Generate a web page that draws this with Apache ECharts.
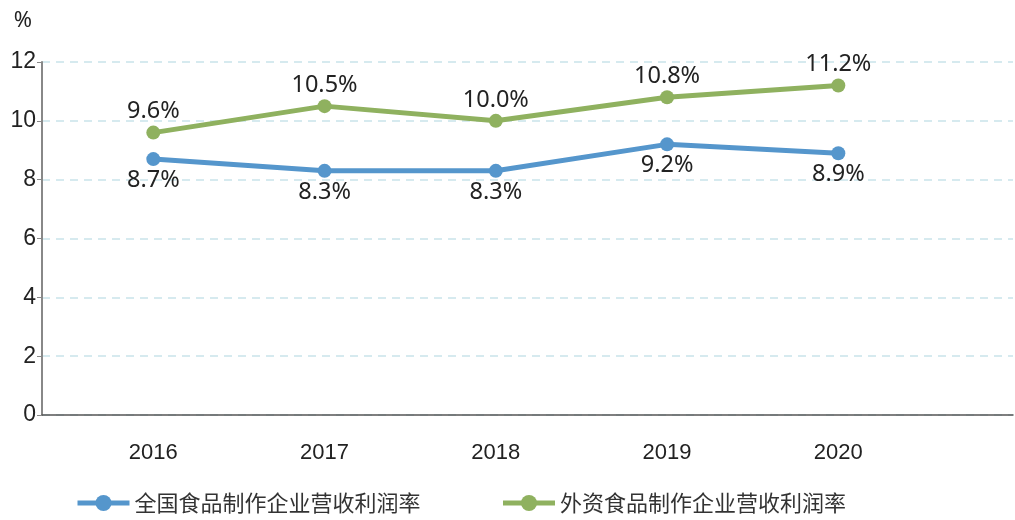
<!DOCTYPE html>
<html>
<head>
<meta charset="utf-8">
<script src="https://cdn.jsdelivr.net/npm/echarts@6/dist/echarts.min.js"></script>
<style>
    html, body { margin: 0; padding: 0; background: #fff; }
    #chart { width: 1015px; height: 520px; }
</style>
</head>
<body>
<div id="chart"></div>
<script>
// data
var years = [2016, 2017, 2018, 2019, 2020];
var nationalRate = [8.7, 8.3, 8.3, 9.2, 8.9];
var foreignRate = [9.6, 10.5, 10.0, 10.8, 11.2];
var seriesNames = ['全国食品制作企业营收利润率', '外资食品制作企业营收利润率'];
var yTicks = [0, 2, 4, 6, 8, 10, 12];

function pairs(vals) {
    var out = [];
    for (var i = 0; i < years.length; i++) {
        out.push([years[i], vals[i]]);
    }
    return out;
}

var chart = echarts.init(document.getElementById('chart'));

var labelFont = '"Noto Sans", "Open Sans", sans-serif';
var cjkFont = '"Noto Sans CJK SC", sans-serif';
var arialFont = '"Liberation Sans", Arial, sans-serif';

var option = {
    backgroundColor: '#fff',
    animation: false,
    grid: { left: 42, right: 2, top: 62, bottom: 105 },
    legend: {
        left: 70,
        top: 487,
        itemWidth: 52,
        itemHeight: 20,
        itemGap: 80,
        lineStyle: { width: 5 },
        textStyle: { fontSize: 22, color: '#333', fontFamily: cjkFont },
        data: seriesNames
    },
    xAxis: {
        type: 'value',
        min: 2015.35,
        max: 2021.02,
        axisLine: { show: true, lineStyle: { color: '#555', width: 1.5 } },
        axisTick: { show: false },
        splitLine: { show: false },
        axisLabel: {
            customValues: years,
            margin: 27,
            fontSize: 22,
            color: '#222',
            fontFamily: arialFont,
            formatter: function (v) { return String(v); }
        }
    },
    yAxis: {
        type: 'value',
        min: yTicks[0],
        max: yTicks[yTicks.length - 1],
        interval: 2,
        name: '%',
        nameLocation: 'end',
        nameGap: 30,
        nameTextStyle: { fontSize: 22, color: '#222', align: 'right', padding: [0, 10, 0, 0], fontFamily: labelFont },
        axisLine: { show: true, lineStyle: { color: '#888', width: 2 } },
        axisTick: { show: true, length: 5, lineStyle: { color: '#888' } },
        axisLabel: { fontSize: 23, color: '#222', margin: 6, fontFamily: arialFont },
        splitLine: {
            show: true,
            lineStyle: { color: '#c9e4ea', type: [8, 6], width: 1.5 }
        }
    },
    series: [
        {
            name: seriesNames[0],
            type: 'line',
            data: pairs(nationalRate),
            symbol: 'circle',
            symbolSize: 14,
            color: '#5596cc',
            lineStyle: { width: 5 },
            label: {
                show: true,
                position: 'bottom',
                distance: 2,
                fontSize: 23.5,
                color: '#222',
                fontFamily: labelFont,
                formatter: function (p) { return p.value[1].toFixed(1) + '%'; }
            }
        },
        {
            name: seriesNames[1],
            type: 'line',
            data: pairs(foreignRate),
            symbol: 'circle',
            symbolSize: 14,
            color: '#8fb15f',
            lineStyle: { width: 5 },
            label: {
                show: true,
                position: 'top',
                distance: 2,
                fontSize: 23.5,
                color: '#222',
                fontFamily: labelFont,
                formatter: function (p) { return p.value[1].toFixed(1) + '%'; }
            }
        }
    ]
};

chart.setOption(option);
</script>
</body>
</html>
